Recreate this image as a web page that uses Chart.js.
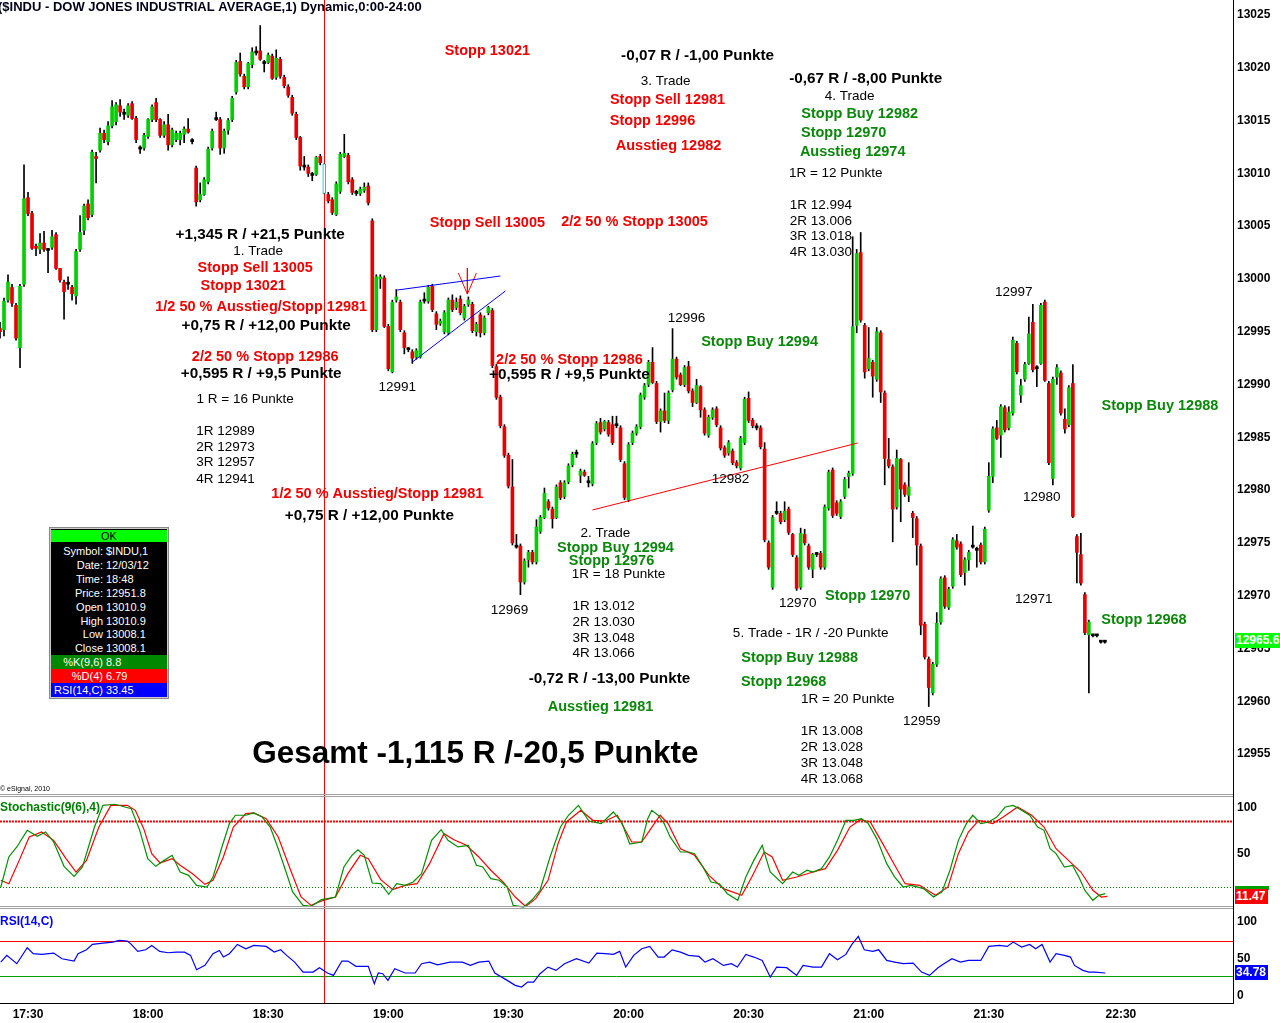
<!DOCTYPE html>
<html>
<head>
<meta charset="utf-8">
<script src="https://cdn.jsdelivr.net/npm/chart.js@4.4.0/dist/chart.umd.min.js"></script>
<style>
  html, body { margin: 0; padding: 0; background: #fff; }
  body { width: 1280px; height: 1023px; overflow: hidden; position: relative; font-family: "Liberation Sans", Arial, sans-serif; }
  canvas { position: absolute; left: 0; }
  .sep { position: absolute; left: 0; width: 1233px; height: 1px; border-top: 1px solid #a0a0a0; border-bottom: 1px solid #a0a0a0; }
  .vline { position: absolute; left: 1233px; top: 0; width: 1px; height: 1004px; background: #000; }
  .hline { position: absolute; left: 0; top: 1003px; width: 1234px; height: 1px; background: #000; }
  .tag { position: absolute; left: 1235px; height: 15px; line-height: 15px; color: #fff; font-weight: bold; font-size: 12px; padding-left: 1px; overflow: hidden; white-space: nowrap; }
  #info { position: absolute; left: 49px; top: 527px; width: 118px; height: 170px; background: #000; border: 1px solid #888; box-shadow: inset 0 0 0 1px #ccc; font-size: 11px; color: #fff; }
  #info .row { position: absolute; left: 1px; width: 116px; height: 14px; line-height: 14px; }
  #info .l { position: absolute; right: 64px; text-align: right; white-space: nowrap; }
  #info .v { position: absolute; left: 55px; white-space: nowrap; }
  #info .ok { background: #00ff00; color: #000; text-align: center; }
</style>
</head>
<body>
<canvas id="price" width="1280" height="796" style="top:0"></canvas>
<canvas id="stoch" width="1280" height="114" style="top:797px"></canvas>
<canvas id="rsi" width="1280" height="112" style="top:911px"></canvas>
<div class="sep" style="top:794px"></div>
<div class="sep" style="top:906px"></div>
<div class="vline"></div>
<div class="hline"></div>
<div class="tag" id="lastTag" style="top:633px;width:44px;background:#00ff00"></div>
<div class="tag" style="top:886px;width:33px;height:4px;background:#00a000"></div>
<div class="tag" style="top:889px;width:32px;background:#ff0000">11.47</div>
<div class="tag" style="top:965px;width:32px;background:#0000ff">34.78</div>
<div id="info"></div>
<script>
const FONT = '"Liberation Sans", Arial, sans-serif';

// 1-minute candles, bar 0 = first visible minute
const opens = [12995.3,12995.2,12998.0,12999.2,12997.5,12993.5,12999.5,13007.7,13006.2,13003.1,
  13002.8,13003.4,13002.8,13003.0,13004.2,13001.0,12999.7,12999.6,12999.2,12998.4,
  13002.8,13004.6,13007.1,13006.1,13011.6,13012.2,13013.8,13013.0,13014.5,13014.9,
  13016.4,13015.7,13015.5,13016.6,13015.2,13012.4,13012.4,13013.5,13015.1,13016.7,
  13015.1,13013.6,13014.6,13012.7,13013.2,13013.2,13013.7,13014.2,13013.1,13010.5,
  13007.5,13008.0,13009.2,13012.4,13015.2,13015.1,13012.4,13014.1,13015.1,13017.7,
  13020.6,13019.2,13018.2,13020.3,13021.5,13021.6,13020.5,13020.5,13021.1,13019.1,
  13020.8,13019.1,13018.2,13017.2,13015.6,13013.4,13010.7,13010.6,13009.9,13009.9,
  13011.6,13010.9,13008.0,13007.5,13006.1,13008.3,13011.6,13011.7,13009.4,13008.2,
  13008.1,13008.4,13008.8,13005.5,12995.2,13000.0,13000.1,12995.5,12991.2,12998.0,
  12997.8,12994.9,12993.4,12993.1,12992.6,12992.6,12998.0,12997.9,12999.3,12996.7,
  12995.8,12995.0,12994.9,12998.0,12997.3,12998.1,12996.3,12997.6,12997.6,12995.0,
  12996.6,12994.9,12996.8,12997.0,12991.7,12988.8,12986.0,12983.3,12980.3,12974.7,
  12974.7,12971.3,12973.4,12974.1,12973.2,12976.1,12977.4,12978.9,12978.2,12977.4,
  12980.7,12979.4,12980.8,12982.4,12983.5,12981.4,12981.7,12980.8,12980.6,12984.5,
  12986.4,12985.8,12986.4,12986.2,12986.2,12985.9,12982.5,12979.1,12984.5,12985.4,
  12986.0,12988.8,12990.0,12992.1,12990.1,12986.5,12987.5,12986.6,12989.5,12992.4,
  12990.9,12990.0,12991.7,12989.4,12988.3,12989.8,12987.6,12985.2,12986.9,12987.7,
  12985.9,12984.0,12983.5,12983.7,12982.6,12982.1,12984.5,12988.7,12986.6,12986.0,
  12985.9,12983.9,12975.0,12970.8,12977.9,12977.8,12977.2,12978.2,12975.8,12973.6,
  12970.8,12975.8,12974.7,12972.5,12974.0,12974.0,12972.7,12978.3,12981.9,12978.8,
  12977.5,12979.4,12981.3,12981.6,12995.6,13002.5,12995.6,12991.5,12992.1,12990.5,
  12994.9,12989.2,12982.9,12982.2,12978.4,12982.9,12980.5,12979.5,12977.8,12977.3,
  12974.7,12967.3,12964.0,12960.8,12963.5,12967.5,12971.7,12968.9,12970.9,12975.2,
  12974.9,12972.2,12973.4,12974.7,12974.4,12974.8,12973.2,12978.1,12981.3,12985.9,
  12985.2,12987.8,12985.9,12987.3,12993.9,12989.0,12990.5,12992.0,12995.9,12991.6,
  12992.0,12997.8,12990.1,12981.1,12990.7,12991.1,12986.7,12986.2,12990.1,12975.6,
  12973.9,12970.1,12966.3,12966.2,12966.2,12965.6,12965.6];
const highs = [12995.9,12998.2,13000.4,12999.5,12997.7,12999.5,13010.8,13008.2,13006.4,13003.3,
  13004.3,13004.5,13002.9,13004.6,13004.4,13001.0,12999.9,13000.2,12999.4,13002.8,
  13006.0,13007.1,13007.5,13012.2,13012.0,13014.3,13014.1,13014.9,13016.9,13016.7,
  13017.0,13016.1,13016.6,13016.8,13015.4,13012.6,13013.8,13015.2,13016.5,13017.1,
  13015.2,13014.9,13015.6,13014.3,13014.0,13014.0,13014.4,13015.2,13013.3,13010.7,
  13009.1,13009.6,13012.5,13014.2,13015.8,13015.3,13014.2,13015.2,13017.3,13020.7,
  13021.4,13019.4,13020.5,13021.9,13022.0,13024.0,13020.7,13021.4,13021.3,13021.7,
  13021.0,13019.3,13018.4,13017.4,13015.8,13013.5,13011.6,13010.8,13010.1,13011.6,
  13011.8,13010.9,13008.2,13007.7,13009.2,13012.0,13013.7,13011.9,13009.6,13008.4,
  13008.7,13009.1,13009.1,13005.7,13000.4,13000.4,13000.3,12995.7,12998.0,12999.0,
  12998.0,12995.1,12993.5,12993.3,12993.4,12998.0,12998.7,12999.4,12999.5,12996.9,
  12996.2,12997.0,12998.2,12998.5,12998.2,12998.4,12997.6,12998.3,12997.8,12995.9,
  12996.8,12996.5,12997.4,12997.2,12991.9,12989.0,12986.2,12983.5,12982.9,12975.8,
  12974.9,12973.5,12974.3,12974.3,12977.2,12977.6,12980.2,12979.1,12978.4,12980.5,
  12980.9,12980.9,12982.5,12983.6,12983.8,12982.0,12981.9,12981.3,12984.6,12986.5,
  12986.8,12986.6,12986.6,12987.0,12987.0,12986.1,12982.7,12984.5,12985.6,12986.2,
  12989.2,12990.1,12992.3,12993.5,12990.3,12987.7,12989.2,12989.4,12995.3,12992.6,
  12991.1,12991.8,12992.2,12989.6,12990.5,12989.9,12987.8,12987.1,12987.8,12987.9,
  12986.1,12984.2,12984.7,12983.9,12982.8,12985.1,12988.8,12989.3,12986.8,12986.3,
  12986.1,12984.5,12975.2,12977.6,12978.9,12978.0,12978.9,12978.4,12975.9,12973.8,
  12976.4,12976.3,12974.9,12974.0,12974.1,12974.2,12978.6,12981.9,12982.1,12979.0,
  12979.1,12981.2,12981.8,13004.0,13002.8,13004.4,12995.8,12995.4,12992.3,12995.4,
  12995.1,12989.4,12984.9,12982.4,12983.8,12983.0,12980.7,12982.6,12978.0,12977.5,
  12974.9,12967.5,12964.2,12963.7,12968.4,12971.8,12971.9,12970.8,12975.5,12975.8,
  12975.1,12973.6,12974.3,12976.6,12974.6,12975.0,12976.5,12982.6,12986.0,12986.6,
  12988.1,12988.0,12987.9,12994.5,12994.1,12990.5,12992.1,12996.4,12997.6,12991.8,
  12997.7,12998.0,12990.3,12990.7,12991.9,12991.3,12987.7,12989.9,12991.9,12975.8,
  12975.9,12970.3,12967.7,12966.3,12966.3,12965.7,12965.7];
const lows = [12994.4,12994.6,12997.8,12997.4,12994.2,12991.6,12999.3,13006.0,13002.8,13002.2,
  13002.4,13002.6,13000.6,13002.8,13000.9,12999.7,12996.2,12999.0,12998.0,12997.6,
  13002.6,13004.2,13005.6,13005.9,13009.1,13012.0,13012.9,13012.7,13014.3,13014.6,
  13015.4,13015.1,13015.3,13015.1,13012.9,13011.9,13012.2,13013.3,13014.9,13014.9,
  13013.4,13013.4,13012.2,13012.5,13013.0,13012.7,13012.9,13013.8,13012.8,13006.9,
  13007.3,13007.9,13009.0,13012.2,13015.0,13011.8,13011.9,13013.7,13014.9,13017.5,
  13019.2,13018.0,13018.0,13020.0,13021.2,13020.7,13019.6,13020.4,13018.9,13018.9,
  13019.0,13018.1,13017.2,13015.5,13013.2,13010.3,13010.3,13009.7,13009.3,13009.8,
  13010.8,13008.1,13007.2,13006.1,13006.0,13008.1,13011.5,13009.0,13008.0,13007.9,
  13007.9,13008.2,13007.0,12995.0,12995.0,12999.1,12995.4,12991.3,12991.1,12997.8,
  12995.0,12992.9,12993.1,12992.0,12992.4,12992.5,12997.7,12997.7,12996.9,12995.2,
  12995.6,12994.8,12994.7,12996.9,12997.1,12996.6,12996.1,12997.4,12994.9,12994.6,
  12994.5,12994.7,12996.6,12991.6,12988.6,12985.9,12983.1,12980.2,12974.8,12974.5,
  12970.1,12971.1,12972.7,12973.0,12973.0,12975.9,12977.3,12978.1,12976.4,12977.3,
  12979.1,12979.2,12980.6,12982.2,12983.1,12980.7,12981.3,12980.3,12980.4,12984.3,
  12985.3,12985.6,12985.1,12984.3,12985.9,12982.7,12979.1,12978.9,12984.3,12985.2,
  12985.8,12988.6,12989.8,12990.1,12986.3,12985.5,12986.4,12986.3,12989.3,12990.5,
  12989.9,12989.8,12989.2,12987.9,12988.2,12986.9,12985.2,12985.0,12986.7,12986.0,
  12983.8,12983.1,12983.3,12982.4,12982.1,12981.9,12984.3,12986.4,12985.9,12985.7,
  12983.9,12975.1,12972.5,12970.6,12977.7,12976.8,12977.0,12975.8,12973.7,12970.5,
  12970.6,12974.8,12972.5,12971.7,12973.7,12972.5,12972.5,12978.1,12977.4,12977.6,
  12977.3,12979.2,12980.2,12981.4,12994.9,12995.9,12990.6,12991.3,12988.8,12990.3,
  12988.3,12980.5,12982.1,12975.1,12978.2,12977.0,12979.4,12978.9,12975.5,12972.9,
  12966.3,12964.0,12959.5,12960.6,12963.3,12967.3,12968.8,12968.7,12970.7,12974.4,
  12971.8,12971.0,12972.4,12974.5,12972.7,12973.0,12973.0,12977.9,12980.7,12984.8,
  12983.1,12985.5,12985.7,12987.1,12991.0,12988.3,12990.3,12991.9,12991.2,12989.8,
  12991.9,12990.3,12982.4,12980.5,12990.0,12987.1,12985.4,12986.0,12977.4,12971.2,
  12971.0,12966.3,12960.8,12966.1,12966.1,12965.5,12965.5];
const closes = [12995.0,12997.9,12999.7,12997.7,12994.4,12999.3,13007.6,13006.2,13002.9,13002.9,
  13003.4,13002.8,13002.7,13004.0,13001.0,12999.9,12998.8,12999.5,12998.6,13002.6,
  13004.4,13006.9,13005.8,13012.0,13011.4,13013.8,13013.2,13014.5,13016.3,13016.5,
  13015.8,13015.6,13016.4,13015.2,13013.2,13012.3,13013.6,13015.1,13016.3,13015.1,
  13013.6,13014.6,13012.7,13014.1,13013.8,13013.8,13014.2,13013.9,13013.0,13007.3,
  13008.0,13009.4,13012.3,13014.0,13015.1,13012.4,13014.0,13015.0,13017.1,13020.5,
  13019.4,13018.2,13020.4,13021.5,13021.4,13020.8,13020.4,13021.2,13019.0,13020.9,
  13019.2,13018.3,13017.4,13015.7,13013.4,13010.7,13010.6,13010.0,13009.8,13011.5,
  13011.0,13008.1,13007.4,13006.3,13009.0,13011.8,13011.9,13009.2,13008.2,13008.1,
  13008.5,13008.7,13007.2,12995.2,13000.2,13000.2,12995.5,12991.5,12997.8,12998.3,
  12995.2,12993.5,12993.3,12992.5,12993.2,12997.8,12997.9,12999.2,12997.1,12995.7,
  12996.0,12996.8,12998.0,12997.1,12997.8,12996.8,12997.4,12998.0,12995.1,12995.7,
  12994.9,12996.3,12997.3,12991.8,12988.8,12986.1,12983.3,12980.4,12975.0,12974.6,
  12971.3,12973.3,12974.1,12973.2,12976.5,12977.4,12979.7,12978.3,12977.3,12980.3,
  12979.3,12980.7,12982.3,12983.4,12983.4,12981.8,12981.4,12980.7,12984.4,12986.3,
  12985.5,12986.5,12985.3,12984.5,12986.1,12982.9,12979.3,12984.3,12985.4,12986.0,
  12989.0,12989.9,12992.1,12990.2,12986.5,12987.5,12986.6,12989.2,12992.4,12990.7,
  12990.0,12991.6,12989.4,12988.3,12989.9,12987.6,12985.4,12986.9,12987.6,12986.2,
  12984.0,12983.3,12984.5,12982.6,12982.3,12984.9,12988.6,12986.6,12986.1,12985.9,
  12984.1,12975.3,12972.7,12977.4,12977.8,12977.0,12978.0,12976.0,12973.9,12970.7,
  12975.9,12975.0,12972.7,12973.9,12973.9,12972.7,12978.4,12981.7,12977.6,12977.8,
  12978.9,12981.0,12981.6,12995.5,13002.4,12996.1,12991.2,12992.5,12990.8,12995.0,
  12989.3,12983.0,12982.3,12978.2,12983.0,12980.1,12979.6,12980.3,12977.4,12974.8,
  12967.2,12964.2,12961.3,12963.5,12967.4,12971.6,12969.0,12970.6,12975.3,12974.6,
  12972.0,12973.4,12974.1,12974.6,12974.3,12973.2,12976.3,12981.3,12985.8,12984.9,
  12987.9,12985.7,12987.4,12994.2,12991.2,12989.9,12991.9,12994.8,12991.4,12991.5,
  12997.5,12990.4,12982.6,12990.5,12991.6,12987.3,12985.8,12989.7,12977.5,12974.1,
  12971.2,12966.5,12967.5,12966.2,12966.2,12965.6,12965.6];

// indicator lines, read at the bar positions where they were sampled
const stochKBars = [0.2,2.2,4.2,6.8,9.3,11.4,13.4,16,18.5,20.6,23.6,25.7,28.7,32.8,34.9,36.9,38.9,41,43,45,
  47.1,49.1,51.7,53.2,55.3,57.3,58.8,61.4,63.4,65.5,67.5,69.5,71.6,73.1,75.7,77.7,80.3,81.8,83.8,85.9,
  87.9,89.4,91,93,95.1,97.1,99.1,101.2,103.2,105.3,107.8,110.2,111.9,114.4,117,119,120.6,122.6,124.7,126.7,
  128.2,130.8,132.8,134.9,137.4,140,142,144.5,147.1,150.2,153.2,155.3,157.3,160.3,161.8,162.8,164.4,165.9,167.4,170,
  172,173.5,175.6,177.6,179.7,181.7,184.3,186.3,188.3,190.4,192.4,195.5,198,199.6,201.6,203.1,205.2,207.2,209.2,211.3,
  213.3,215.2,216.9,219,221.5,223.5,225.6,227.6,230.7,233.2,235.3,237.3,239.4,241.4,243,245,247,249,251.1,253.1,
  255.2,257.2,259.2,260.8,262.3,263.8,265.9,267.9,269.5,271,273,274.5,276.1];
const stochK = [20,47.3,56.4,71.5,66.1,70,60.9,38.8,29.7,38.2,74.5,94.2,95.2,91.2,71.5,45.8,38.8,44.2,48.8,33.6,
  30.6,21.5,20,29,54.8,77.6,85.2,85.2,87.3,83.6,74.5,54.8,32,15.5,3.3,2.4,8.5,9.4,10.9,38.2,
  48.8,53.9,48.8,23.6,23,13.3,23,21.5,24.5,32,62.4,72.1,62.4,56.4,57.9,39.7,38.2,27.6,26.1,20,
  3.3,1.8,7.9,17,47.3,74.5,85.2,94.2,80,77.6,88.2,78.8,59.1,60.9,82.1,89.7,85.2,77.6,65.5,51.8,
  51.8,50.3,38.2,24.5,23,13.9,7.9,29,44.2,57.9,33.6,23,33.6,30.6,35.2,33.6,36.7,47.3,62.4,80.6,
  80.6,82.1,77.6,64,41.2,29,20,21.5,18.5,10.9,15.5,35.2,62.4,77.6,85.2,77.6,79.1,83.6,92.7,94.2,
  89.7,85.2,74.5,71.5,54.8,50.3,38.2,39.7,29,16.9,7.9,12.4,13.9];
const stochDBars = [0.2,2.2,4.8,7.3,10.4,13.4,16.5,19,21.6,24.7,27.7,31.8,33.8,35.9,37.9,40,43,45,48.1,51.2,
  53.2,55.8,58.3,61.4,63.4,66.5,69.5,72.6,75.2,77.7,80.8,83.8,86.9,90,92,95.1,98.1,101.2,104.2,107.3,
  110.9,113.4,116.5,119.6,122.6,125.7,128.7,131.3,133.8,136.9,139.4,141.5,145.1,148.1,151.2,154.2,157.8,160.3,162.3,164.9,
  166.9,170,173.5,177.1,180.7,185.3,187.8,190.9,192.9,195.5,199,203.1,206.2,209.2,212.3,214.9,217.4,220.5,223.5,226.1,
  229.7,233.7,236.8,239.4,241.9,244.5,248,250.6,254.2,257.7,260.8,263.8,266.9,270,273,275.1,276.6];
const stochD = [26.1,23,44.2,65.5,70,62.4,45.8,33.6,44.2,74.5,94.2,94.2,89.7,73,50.3,41.8,45.8,39.7,32.1,22.4,
  26.1,47.3,74.5,86.7,87.3,82.1,65.5,35.2,10.9,3.3,7.9,10.9,32.1,48.8,45.8,26.7,17.6,21.5,23,41.2,
  68.5,63,57.9,47.3,35.2,24.5,10.9,2.4,9.4,26.1,59.4,79.1,89.7,80.6,80,85.2,60.9,60.9,71.5,85.2,
  77.6,54.8,48.8,30.6,18.5,12.4,29.1,51.8,47.3,26.1,29.1,33.6,36.7,53.3,74.5,81.2,79.1,59.4,39.7,23,
  21.5,12.4,20,50.3,70,80.6,77.6,83.6,92.7,85.2,74.5,54.8,44.2,33.6,17,10.9,11.5];
const rsiBars = [0.2,1.7,4.2,6.8,8.3,10.4,13.4,15.5,18.5,19.5,21.6,23.1,25.7,28.2,29.8,31.8,32.8,34.4,36.4,37.9,
  39.9,42,44,46.1,47.6,49.1,51.2,53.2,54.8,55.8,57.3,59.3,61.4,63.4,66.5,68.5,70.1,71.6,73.6,75.7,
  78.2,79.8,81.8,83.3,85.4,86.9,88.9,92,93.5,94.5,95.6,96.9,98.6,101.2,103.7,105.3,107.3,109.3,112.4,115.5,
  117.5,119.6,122.1,123.6,126.7,128.7,130.3,131.8,133.3,134.9,136.9,138.9,141,144,147.1,149.1,151.2,153.2,154.8,156.3,
  158.3,160.3,162.3,164.4,165.9,167.9,170,172,174.6,176.1,178.1,180.7,182.7,184.2,186.3,188.3,190.4,192.4,194,196.5,
  199,200.6,203.1,205.2,207.2,209.2,211.3,212.8,214.4,215.9,218,219.5,221.5,223.5,225.6,228.1,230.2,232.2,234.3,235.8,
  237.8,239.9,241.9,245,247,249.6,251.6,253.1,255.2,257.2,258.7,260.3,262.3,263.8,265.9,267.4,268.4,270.5,272,273.5,276.1];
const rsi = [45.7,53.3,43.9,61.9,55.2,54.4,55.9,49.5,46.9,55.2,59.6,65.7,67.2,68.3,70.2,69.4,65.7,57.8,59.6,64.5,
  57.8,56.3,57,57,53.3,37.1,42,55.2,58.9,51.4,55.2,65.7,60.8,64.5,63.4,57,59.6,53.3,45.7,34.5,
  34.5,39.4,33.4,30.7,46.9,46.9,40.9,40.9,21.3,33.4,32.6,25.1,38.2,33.4,33.4,43.9,45.7,42.7,45.7,45.7,
  42,45.7,46.9,33.4,25.1,19.5,17.6,23.2,23.2,32.6,40.1,36.4,43.9,49.5,44.6,55.9,55.2,54.4,57.8,40.1,
  53.3,60.8,63.4,51.4,51.4,59.6,57,53.3,52.1,45.7,49.5,42,43.9,40.1,54.4,51.4,47.6,28.8,40.1,39.4,
  30.7,42,40.1,40.1,55.2,48.4,54.4,65.7,74.7,59.6,57.8,59.6,47.6,45.7,43.9,44.6,34.5,30.7,39.4,43.9,
  49.5,45.7,47.6,47.6,63.4,64.5,63.4,68.3,62.7,65.7,60.8,65.7,45.7,55.2,53.3,51.4,42,36.4,34.5,34.5,33.4];

const priceTicks = [12955,12960,12965,12970,12975,12980,12985,12990,12995,13000,13005,13010,13015,13020,13025];
const timeLabels = ['17:30','18:00','18:30','19:00','19:30','20:00','20:30','21:00','21:30','22:30'];
const timeBars = [7,37,67,97,127,157,187,217,247,280];
const selectedBar = 81;
const stochLevels = [80, 20];
const rsiLevels = [70, 30];

// drawn trend lines [bar, price] pairs
const wedgeTop = [[99.25, 12998.95], [125, 13000.28]];
const wedgeBottom = [[103, 12992.13], [126.25, 12998.86]];
const trendLine = [[148, 12978.12], [214.25, 12984.46]];
const arrowShaft = [[116.75, 13001.04], [116.75, 12998.57]];
const arrowHead = [[114.5, 13000.56], [116.75, 12998.57], [119, 13000.56]];

// chart notes: text, bar, price, style, align
const notes = [
  ['Stopp 13021', 121.75, 13021.6, 'red'],
  ['-0,07 R / -1,00 Punkte', 174.25, 13021.1, 'black'],
  ['3. Trade', 166.25, 13018.75, 'note'],
  ['Stopp Sell 12981', 166.75, 13016.95, 'red'],
  ['Stopp 12996', 163, 13014.96, 'red'],
  ['Ausstieg 12982', 167, 13012.6, 'red'],
  ['-0,67 R / -8,00 Punkte', 216.25, 13019.0, 'black'],
  ['4. Trade', 212.25, 13017.3, 'note'],
  ['Stopp Buy 12982', 214.75, 13015.6, 'green'],
  ['Stopp 12970', 210.75, 13013.8, 'green'],
  ['Ausstieg 12974', 213, 13012.0, 'green'],
  ['1R = 12 Punkte', 208.75, 13010.0, 'note'],
  ['1R 12.994', 197.25, 13007.0, 'note', 'left'],
  ['2R 13.006', 197.25, 13005.5, 'note', 'left'],
  ['3R 13.018', 197.25, 13004.0, 'note', 'left'],
  ['4R 13.030', 197.25, 13002.5, 'note', 'left'],
  ['Stopp Sell 13005', 121.75, 13005.3, 'red'],
  ['2/2 50 % Stopp 13005', 158.5, 13005.4, 'red'],
  ['+1,345 R / +21,5 Punkte', 65, 13004.2, 'black'],
  ['1. Trade', 64.5, 13002.65, 'note'],
  ['Stopp Sell 13005', 63.75, 13001.0, 'red'],
  ['Stopp 13021', 60.75, 12999.3, 'red'],
  ['1/2 50 % Ausstieg/Stopp 12981', 65.25, 12997.3, 'red'],
  ['+0,75 R / +12,00 Punkte', 66.5, 12995.6, 'black'],
  ['2/2 50 % Stopp 12986', 66.25, 12992.6, 'red'],
  ['+0,595 R / +9,5 Punkte', 65.25, 12991.0, 'black'],
  ['1 R = 16 Punkte', 61.25, 12988.6, 'note'],
  ['1R 12989', 49, 12985.6, 'note', 'left'],
  ['2R 12973', 49, 12984.1, 'note', 'left'],
  ['3R 12957', 49, 12982.6, 'note', 'left'],
  ['4R 12941', 49, 12981.05, 'note', 'left'],
  ['12991', 99.25, 12989.7, 'note'],
  ['1/2 50 % Ausstieg/Stopp 12981', 94.25, 12979.6, 'red'],
  ['+0,75 R / +12,00 Punkte', 92.25, 12977.55, 'black'],
  ['2/2 50 % Stopp 12986', 142.25, 12992.3, 'red'],
  ['+0,595 R / +9,5 Punkte', 142.25, 12990.9, 'black'],
  ['12996', 171.5, 12996.3, 'note'],
  ['Stopp Buy 12994', 189.75, 12994.0, 'green'],
  ['12982', 182.5, 12981.05, 'note'],
  ['2. Trade', 151.25, 12975.9, 'note'],
  ['Stopp Buy 12994', 153.75, 12974.5, 'green'],
  ['Stopp 12976', 152.75, 12973.3, 'green'],
  ['1R = 18 Punkte', 154.5, 12972.05, 'note'],
  ['12969', 127.25, 12968.65, 'note'],
  ['1R 13.012', 143, 12969.0, 'note', 'left'],
  ['2R 13.030', 143, 12967.5, 'note', 'left'],
  ['3R 13.048', 143, 12966.0, 'note', 'left'],
  ['4R 13.066', 143, 12964.5, 'note', 'left'],
  ['-0,72 R / -13,00 Punkte', 152.25, 12962.1, 'black'],
  ['Ausstieg 12981', 150, 12959.45, 'green'],
  ['12970', 199.25, 12969.3, 'note'],
  ['Stopp 12970', 216.75, 12969.97, 'green'],
  ['5. Trade - 1R / -20 Punkte', 202.5, 12966.4, 'note'],
  ['Stopp Buy 12988', 199.75, 12964.1, 'green'],
  ['Stopp 12968', 195.75, 12961.8, 'green'],
  ['1R = 20 Punkte', 211.75, 12960.2, 'note'],
  ['1R 13.008', 200, 12957.19, 'note', 'left'],
  ['2R 13.028', 200, 12955.67, 'note', 'left'],
  ['3R 13.048', 200, 12954.15, 'note', 'left'],
  ['4R 13.068', 200, 12952.63, 'note', 'left'],
  ['12959', 230.25, 12958.1, 'note'],
  ['12997', 253.25, 12998.76, 'note'],
  ['12980', 260.25, 12979.35, 'note'],
  ['12971', 258.25, 12969.7, 'note'],
  ['Stopp Buy 12988', 289.75, 12987.97, 'green'],
  ['Stopp 12968', 285.75, 12967.7, 'green'],
  ['Gesamt -1,115 R /-20,5 Punkte', 118.75, 12955.0, 'big']
];

const noteStyles = {
  red: { font: 'bold 14.5px ' + FONT, color: '#f00000' },
  green: { font: 'bold 14.5px ' + FONT, color: '#0a870a' },
  black: { font: 'bold 15.3px ' + FONT, color: '#000000' },
  note: { font: '13.5px ' + FONT, color: '#000000' },
  big: { font: 'bold 31.5px ' + FONT, color: '#000000' }
};

const GREEN = '#00d000';
const RED = '#e80000';

function bodyColor(i) {
  if (i === selectedBar) return '#ffffff';
  if (Math.abs(closes[i] - opens[i]) < 0.2) return '#000000';
  return closes[i] > opens[i] ? GREEN : RED;
}

function xAxis(display) {
  return {
    type: 'linear', min: 0, max: 308, display: display, offset: false,
    grid: { display: false, drawTicks: false }, border: { display: false }
  };
}

function pairs(list) {
  return list.map(p => ({ x: p[0], y: p[1] }));
}

function lineSet(points, color) {
  return { type: 'line', data: pairs(points), borderColor: color, borderWidth: 1, pointRadius: 0, tension: 0, order: 0 };
}

function cursorLine(chart, bottom) {
  const ctx = chart.ctx;
  const x = Math.round(chart.scales.x.getPixelForValue(selectedBar)) + 0.5;
  ctx.save();
  ctx.strokeStyle = '#ff0000';
  ctx.lineWidth = 1;
  ctx.beginPath();
  ctx.moveTo(x, 0);
  ctx.lineTo(x, bottom);
  ctx.stroke();
  ctx.restore();
}

const common = {
  responsive: false,
  animation: false,
  events: [],
  devicePixelRatio: 1,
  plugins: { legend: { display: false }, tooltip: { enabled: false } }
};

// price panel
const pricePlugin = {
  id: 'priceExtras',
  beforeDatasetsDraw(chart) {
    cursorLine(chart, chart.height);
  },
  afterDatasetsDraw(chart) {
    const ctx = chart.ctx;
    const xs = chart.scales.x, ys = chart.scales.y;
    ctx.save();
    ctx.textBaseline = 'middle';
    notes.forEach(n => {
      const st = noteStyles[n[3]];
      ctx.font = st.font;
      ctx.fillStyle = st.color;
      ctx.textAlign = n[4] || 'center';
      ctx.fillText(n[0], xs.getPixelForValue(n[1]), ys.getPixelForValue(n[2]));
    });
    ctx.textAlign = 'left';
    ctx.font = 'bold 13px ' + FONT;
    ctx.fillStyle = '#000018';
    ctx.fillText('($INDU - DOW JONES INDUSTRIAL AVERAGE,1) Dynamic,0:00-24:00', -2, 7);
    ctx.font = '7px ' + FONT;
    ctx.fillStyle = '#000';
    ctx.fillText('\u00a9 eSignal, 2010', 0, 789);
    ctx.restore();
  }
};

new Chart(document.getElementById('price'), {
  type: 'bar',
  data: {
    datasets: [
      lineSet(wedgeTop, '#0000ff'),
      lineSet(wedgeBottom, '#0000ff'),
      lineSet(trendLine, '#ff0000'),
      lineSet(arrowShaft, '#ff0000'),
      lineSet(arrowHead, '#ff0000'),
      {
        type: 'bar',
        data: opens.map((o, i) => ({ x: i, y: [o, closes[i]] })),
        backgroundColor: opens.map((o, i) => bodyColor(i)),
        borderColor: opens.map((o, i) => i === selectedBar ? '#00b8c8' : '#000000'),
        borderWidth: opens.map((o, i) => i === selectedBar ? 1 : 0),
        borderSkipped: false,
        barThickness: 3,
        minBarLength: 2,
        grouped: false,
        order: 1
      },
      {
        type: 'bar',
        data: opens.map((o, i) => ({ x: i, y: [lows[i], highs[i]] })),
        backgroundColor: '#000000',
        barThickness: 1,
        minBarLength: 1,
        grouped: false,
        order: 2
      }
    ]
  },
  options: Object.assign({}, common, {
    layout: { padding: 0 },
    scales: {
      x: xAxis(false),
      y: {
        position: 'right', min: 12951.03, max: 13026.42,
        grid: { display: false, drawTicks: false }, border: { display: false },
        afterBuildTicks: s => { s.ticks = priceTicks.map(v => ({ value: v })); },
        afterFit: s => { s.width = 47; s.paddingTop = 0; s.paddingBottom = 0; },
        ticks: { padding: 4, color: '#000', font: { family: FONT, size: 12, weight: 'bold' }, callback: v => String(v) }
      }
    }
  }),
  plugins: [pricePlugin]
});

// indicator panels
function indicatorPlugin(title, titleColor, levels, levelStyles, axisLabels, bottomLimit) {
  return {
    id: 'ind' + title,
    beforeDatasetsDraw(chart) {
      const ctx = chart.ctx;
      const ys = chart.scales.y;
      const area = chart.chartArea;
      ctx.save();
      levels.forEach((lv, i) => {
        const st = levelStyles[i];
        const y = Math.round(ys.getPixelForValue(lv)) + 0.5;
        ctx.strokeStyle = st.color;
        ctx.lineWidth = st.width;
        ctx.setLineDash(st.dash);
        ctx.beginPath();
        ctx.moveTo(area.left, y);
        ctx.lineTo(area.right, y);
        ctx.stroke();
      });
      ctx.restore();
      cursorLine(chart, bottomLimit);
    },
    afterDraw(chart) {
      const ctx = chart.ctx;
      const ys = chart.scales.y;
      const area = chart.chartArea;
      ctx.save();
      ctx.textBaseline = 'middle';
      ctx.textAlign = 'left';
      ctx.font = 'bold 12px ' + FONT;
      ctx.fillStyle = titleColor;
      ctx.fillText(title, 0, 11);
      ctx.fillStyle = '#000';
      axisLabels.forEach(v => {
        let y = ys.getPixelForValue(v);
        y = Math.min(Math.max(y, area.top + 11), area.bottom - 7);
        ctx.fillText(String(v), area.right + 4, y);
      });
      ctx.restore();
    }
  };
}

new Chart(document.getElementById('stoch'), {
  type: 'line',
  data: {
    datasets: [
      { data: stochKBars.map((b, i) => ({ x: b, y: stochK[i] })), borderColor: '#009000', borderWidth: 1.2, pointRadius: 0, tension: 0 },
      { data: stochDBars.map((b, i) => ({ x: b, y: stochD[i] })), borderColor: '#ff0000', borderWidth: 1.2, pointRadius: 0, tension: 0 }
    ]
  },
  options: Object.assign({}, common, {
    layout: { padding: { left: 0, right: 47, top: 0, bottom: 0 } },
    scales: {
      x: xAxis(false),
      y: { display: false, min: -1.82, max: 101.8 }
    }
  }),
  plugins: [indicatorPlugin('Stochastic(9(6),4)', '#008000', stochLevels,
    [{ color: '#ff0000', width: 2, dash: [2, 1] }, { color: '#008000', width: 1, dash: [1, 2] }],
    [100, 50], 114)]
});

new Chart(document.getElementById('rsi'), {
  type: 'line',
  data: {
    datasets: [
      { data: rsiBars.map((b, i) => ({ x: b, y: rsi[i] })), borderColor: '#0000ff', borderWidth: 1.2, pointRadius: 0, tension: 0 }
    ]
  },
  options: Object.assign({}, common, {
    layout: { padding: { left: 0, right: 47, top: 0, bottom: 0 } },
    scales: {
      x: Object.assign(xAxis(true), {
        afterBuildTicks: s => { s.ticks = timeBars.map(v => ({ value: v })); },
        afterFit: s => { s.height = 20; },
        ticks: {
          autoSkip: false, maxRotation: 0, padding: 4, color: '#000',
          font: { family: FONT, size: 12, weight: 'bold' },
          callback: (v, i) => timeLabels[i]
        }
      }),
      y: { display: false, min: -0.45, max: 103.4 }
    }
  }),
  plugins: [indicatorPlugin('RSI(14,C)', '#0000ff', rsiLevels,
    [{ color: '#ff0000', width: 1, dash: [] }, { color: '#00a000', width: 1, dash: [] }],
    [100, 50, 0], 92)]
});

// last price tag and data window
document.getElementById('lastTag').textContent = closes[closes.length - 1].toFixed(1);

const infoRows = [
  ['Symbol:', '$INDU,1'],
  ['Date:', '12/03/12'],
  ['Time:', '18:48'],
  ['Price:', '12951.8'],
  ['Open', opens[selectedBar].toFixed(1)],
  ['High', highs[selectedBar].toFixed(1)],
  ['Low', lows[selectedBar].toFixed(1)],
  ['Close', closes[selectedBar].toFixed(1)],
  ['%K(9,6)', '8.8', '#008800'],
  ['%D(4)', '6.79', '#ff0000'],
  ['RSI(14,C)', '33.45', '#0000ff']
];
const info = document.getElementById('info');
let html = '<div class="row ok" style="top:2px;height:12px;line-height:12px">OK</div>';
infoRows.forEach((r, i) => {
  const top = 16 + i * 13.9;
  const bg = r[2] ? 'background:' + r[2] + ';' : '';
  html += '<div class="row" style="top:' + top + 'px;' + bg + '"><span class="l">' + r[0] + '</span><span class="v">' + r[1] + '</span></div>';
});
info.innerHTML = html;
</script>
</body>
</html>
